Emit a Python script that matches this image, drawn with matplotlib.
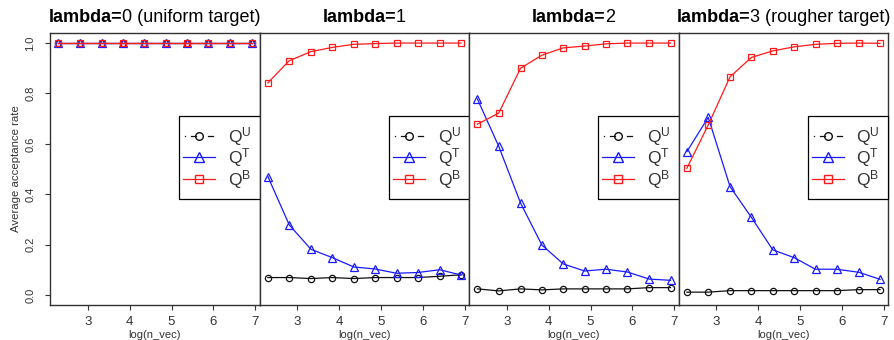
import numpy as np
import matplotlib
matplotlib.use('Agg')
import matplotlib.pyplot as plt
from matplotlib.patches import Rectangle

plt.rcParams['font.family'] = ['Liberation Sans', 'DejaVu Sans']
plt.rcParams['mathtext.fontset'] = 'custom'
plt.rcParams['mathtext.rm'] = 'Liberation Sans'
plt.rcParams['mathtext.it'] = 'Liberation Sans'
plt.rcParams['mathtext.default'] = 'regular'

# ---- data ----
log_n = [2.30, 2.81, 3.33, 3.84, 4.35, 4.86, 5.37, 5.88, 6.40, 6.91]
x_ticks = [3, 4, 5, 6, 7]
y_ticks = [0.0, 0.2, 0.4, 0.6, 0.8, 1.0]
title_bold = ['lambda=', 'lambda=', 'lambda=', 'lambda=']
title_rest = ['0 (uniform target)', '1', '2', '3 (rougher target)']
legend_labels = [r'$\mathregular{Q^U}$', r'$\mathregular{Q^T}$', r'$\mathregular{Q^B}$']

qu_l0 = [1.0, 1.0, 1.0, 1.0, 1.0, 1.0, 1.0, 1.0, 1.0, 1.0]
qt_l0 = [1.0, 1.0, 1.0, 1.0, 1.0, 1.0, 1.0, 1.0, 1.0, 1.0]
qb_l0 = [1.0, 1.0, 1.0, 1.0, 1.0, 1.0, 1.0, 1.0, 1.0, 1.0]

qu_l1 = [0.069, 0.069, 0.065, 0.069, 0.065, 0.069, 0.069, 0.069, 0.074, 0.080]
qt_l1 = [0.47, 0.278, 0.181, 0.148, 0.111, 0.103, 0.086, 0.089, 0.100, 0.079]
qb_l1 = [0.842, 0.930, 0.966, 0.983, 0.995, 0.998, 1.0, 1.0, 1.0, 1.0]

qu_l2 = [0.024, 0.016, 0.024, 0.020, 0.024, 0.024, 0.024, 0.024, 0.029, 0.029]
qt_l2 = [0.778, 0.59, 0.365, 0.198, 0.123, 0.095, 0.102, 0.091, 0.063, 0.058]
qb_l2 = [0.678, 0.722, 0.90, 0.952, 0.981, 0.988, 0.997, 1.0, 1.0, 1.0]

qu_l3 = [0.011, 0.011, 0.017, 0.017, 0.017, 0.017, 0.017, 0.017, 0.021, 0.021]
qt_l3 = [0.569, 0.705, 0.43, 0.308, 0.179, 0.148, 0.102, 0.102, 0.090, 0.062]
qb_l3 = [0.503, 0.675, 0.866, 0.943, 0.969, 0.985, 0.995, 0.999, 1.0, 0.999]

panels = [(qu_l0, qt_l0, qb_l0), (qu_l1, qt_l1, qb_l1),
          (qu_l2, qt_l2, qb_l2), (qu_l3, qt_l3, qb_l3)]

# ---- layout ----
W, H = 894, 340
fig = plt.figure(figsize=(W / 100, H / 100), dpi=100)
lefts_px = [50, 259.5, 469, 678.5]
width_px = 209.5
bottom_px = 35
height_px = 272

spine_col = '#333333'
text_col = '#333333'
col_u, col_t, col_b = '#111111', '#1a1aff', '#ff1a1a'

axes = []
for i, (qu, qt, qb) in enumerate(panels):
    ax = fig.add_axes([lefts_px[i] / W, bottom_px / H, width_px / W, height_px / H])
    axes.append(ax)
    ax.plot(log_n, qu, color=col_u, lw=0.9, marker='o', ms=4.5, mfc='none', mew=0.9)
    ax.plot(log_n, qt, color=col_t, lw=0.9, marker='^', ms=6, mfc='none', mew=0.9)
    ax.plot(log_n, qb, color=col_b, lw=0.9, marker='s', ms=5, mfc='none', mew=0.9)
    ax.set_xlim(2.1, 7.1)
    ax.set_ylim(-0.04, 1.04)
    ax.set_xticks(x_ticks)
    ax.set_xticklabels([str(t) for t in x_ticks])
    ax.tick_params(axis='x', direction='out', length=3.6, width=0.8, color=spine_col,
                   labelsize=9.5, labelcolor=text_col, pad=4.5)
    if i == 0:
        ax.set_yticks(y_ticks)
        ax.set_yticklabels(['%.1f' % t for t in y_ticks], rotation=90, va='center')
        ax.tick_params(axis='y', direction='out', length=3.6, width=0.8, color=spine_col,
                       labelsize=8, labelcolor=text_col, pad=7)
        ax.set_ylabel('Average acceptance rate', fontsize=8.2, color=text_col, labelpad=3)
    else:
        ax.set_yticks([])
    ax.set_xlabel('log(n_vec)', fontsize=8, color=text_col, labelpad=1)
    for s in ax.spines.values():
        s.set_color(spine_col)
        s.set_linewidth(1.0)

    # legend (manual, R-style)
    fx = lambda px: px / width_px
    fy = lambda py: (305 - py) / height_px
    box_l = 129
    rect = Rectangle((fx(box_l), fy(199)), 1 - fx(box_l), fy(115.5) - fy(199),
                     transform=ax.transAxes, facecolor='white', edgecolor='black',
                     lw=0.9, zorder=5, clip_on=False)
    ax.add_patch(rect)
    rows = [136, 156.7, 178.5]
    s0 = box_l + 4
    # black: dot + dash-circle-dash
    ry = fy(rows[0])
    ax.plot([fx(s0 + 2)], [ry], color=col_u, marker='s', ms=0.9, mew=0,
            transform=ax.transAxes, zorder=6)
    ax.plot([fx(s0 + 8), fx(s0 + 13)], [ry, ry], color=col_u, lw=0.9, transform=ax.transAxes, zorder=6)
    ax.plot([fx(s0 + 25), fx(s0 + 30)], [ry, ry], color=col_u, lw=0.9, transform=ax.transAxes, zorder=6)
    ax.plot([fx(s0 + 16)], [ry], color=col_u, marker='o', ms=5.5, mfc='none', mew=1,
            transform=ax.transAxes, zorder=6)
    for r, c, m, ms in [(rows[1], col_t, '^', 7), (rows[2], col_b, 's', 6)]:
        ry = fy(r)
        ax.plot([fx(s0), fx(s0 + 32)], [ry, ry], color=c, lw=0.9, transform=ax.transAxes, zorder=6)
        ax.plot([fx(s0 + 16)], [ry], color=c, marker=m, ms=ms, mfc='none', mew=1,
                transform=ax.transAxes, zorder=6)
    for r, lab in zip(rows, legend_labels):
        ax.text(fx(box_l + 49), fy(r + 1), lab, transform=ax.transAxes, fontsize=12.5,
                color=text_col, ha='left', va='center', zorder=7)

# titles with bold "lambda=" part
fig.canvas.draw()
renderer = fig.canvas.get_renderer()
for i, ax in enumerate(axes):
    cx = (lefts_px[i] + width_px / 2) / W
    ty = (H - 22) / H
    t1 = fig.text(0, ty, title_bold[i], fontsize=13, fontweight='bold', color='black',
                  ha='left', va='baseline')
    t2 = fig.text(0, ty, title_rest[i], fontsize=13, color='black', ha='left', va='baseline')
    w1 = t1.get_window_extent(renderer).width / W
    w2 = t2.get_window_extent(renderer).width / W
    x0 = cx - (w1 + w2) / 2
    t1.set_x(x0)
    t2.set_x(x0 + w1)

fig.savefig('out.png', dpi=100)
